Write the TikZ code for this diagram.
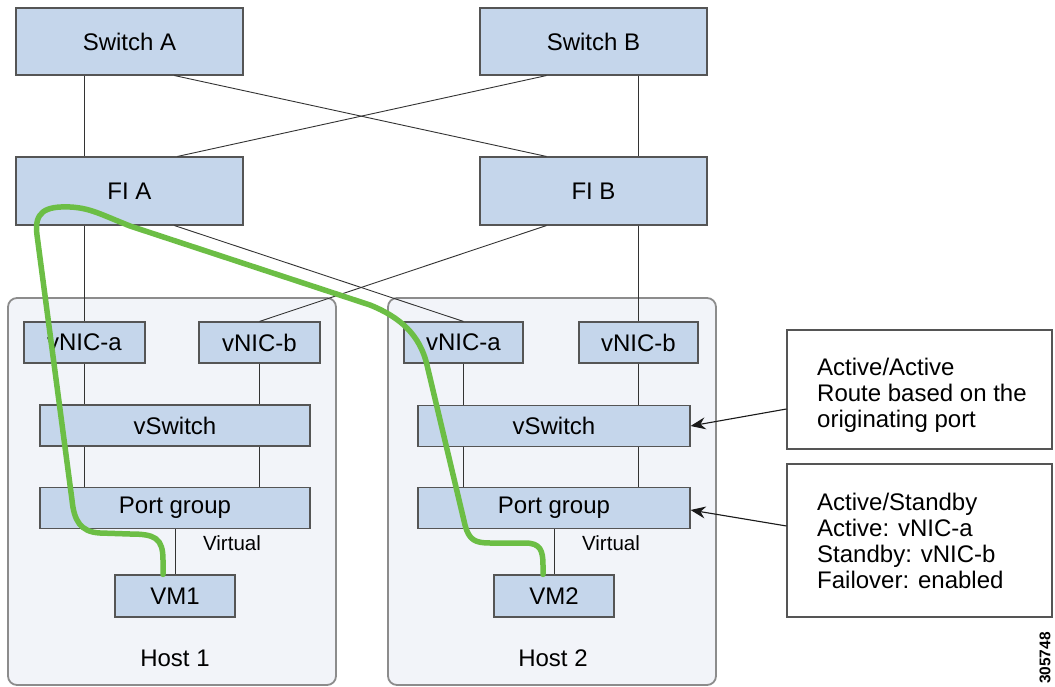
\documentclass[tikz,border=0pt]{standalone}
\usepackage{fontspec}
\setmainfont{Liberation Sans}
\usetikzlibrary{calc,arrows.meta}
\definecolor{boxfill}{RGB}{197,214,235}
\definecolor{boxline}{RGB}{85,85,85}
\definecolor{hostfill}{RGB}{242,244,249}
\definecolor{hostline}{RGB}{140,140,140}
\definecolor{pathgreen}{RGB}{108,190,69}
\begin{document}
\begin{tikzpicture}[x=1pt,y=-1pt,
  box/.style={draw=boxline, fill=boxfill, line width=1.1pt, inner sep=0pt,
    font=\fontsize{24}{26}\selectfont},
  host/.style={draw=hostline, fill=hostfill, line width=1.8pt, rounded corners=9pt, inner sep=0pt},
  link/.style={draw=black!80, line width=0.9pt},
  note/.style={draw=boxline, line width=1.1pt, fill=white, inner sep=0pt},
  notetext/.style={inner sep=0pt, align=left, anchor=north west, font=\fontsize{24}{26}\selectfont},
  lbl/.style={inner sep=0pt, font=\fontsize{24}{26}\selectfont},
  small/.style={inner sep=0pt, font=\fontsize{20.5}{24}\selectfont},
  arr/.style={draw=black!90, line width=1.1pt, -{Stealth[length=15pt,width=12pt,inset=5pt]}},
  route/.style={draw=pathgreen, line width=5.5pt, line cap=round, line join=round}]
\useasboundingbox (0,0) rectangle (1055,687);
\fill[white] (0,0) rectangle (1055,687);

% hosts
\node[host, minimum width=328pt, minimum height=387pt] (h1) at (172,491.5) {};
\node[host, minimum width=328pt, minimum height=387pt] (h2) at (552,491.5) {};

% top boxes
\node[box, minimum width=227pt, minimum height=67pt] (swA) at (129.5,41.5) {Switch A};
\node[box, minimum width=227pt, minimum height=67pt] (swB) at (593.5,41.5) {Switch B};
\node[box, minimum width=227pt, minimum height=68pt] (fiA) at (129.5,191) {FI A};
\node[box, minimum width=227pt, minimum height=68pt] (fiB) at (593.5,191) {FI B};

% host 1
\node[box, minimum width=121pt, minimum height=41pt] (va1) at (84.5,342.5) {vNIC-a};
\node[box, minimum width=121pt, minimum height=41pt] (vb1) at (259.5,342.5) {vNIC-b};
\node[box, minimum width=270pt, minimum height=41pt] (vs1) at (175,425.5) {vSwitch};
\node[box, minimum width=270pt, minimum height=41pt] (pg1) at (175,508) {Port group};
\node[box, minimum width=120pt, minimum height=42pt] (vm1) at (175,596) {VM1};
\node[small] (virt1) at (232,543) {Virtual};
\node[lbl] (hl1) at (175,658) {Host 1};

% host 2
\node[box, minimum width=119pt, minimum height=41pt] (va2) at (463.5,342.5) {vNIC-a};
\node[box, minimum width=119pt, minimum height=41pt] (vb2) at (638.5,342.5) {vNIC-b};
\node[box, minimum width=272pt, minimum height=41pt] (vs2) at (554,426) {vSwitch};
\node[box, minimum width=272pt, minimum height=41pt] (pg2) at (554,508) {Port group};
\node[box, minimum width=120pt, minimum height=42pt] (vm2) at (554,596) {VM2};
\node[small] (virt2) at (611,543) {Virtual};
\node[lbl] (hl2) at (553,658) {Host 2};

% notes
\node[note, minimum width=265pt, minimum height=119pt] (n1) at (919.5,389.5) {};
\node[notetext] (t1) at (817,358) {Active/Active\\Route based on the\\originating port};
\node[note, minimum width=265pt, minimum height=153pt] (n2) at (919.5,540.5) {};
\node[notetext] (t2) at (817,493) {Active/Standby\\Active: vNIC-a\\Standby: vNIC-b\\Failover: enabled};

\node[inner sep=0pt, rotate=90, font=\fontsize{15.5}{18}\selectfont\bfseries] (num) at (1045,658) {305748};

% links top
\draw[link] (swA.south -| va1) -- (fiA.north -| va1);
\draw[link] (swB.south -| vb2) -- (fiB.north -| vb2);
\draw[link] ($(swA.south west)+(159,0)$) -- ($(fiB.north west)+(67,0)$);
\draw[link] ($(swB.south west)+(67,0)$) -- ($(fiA.north west)+(162,0)$);
% FI to vNIC
\draw[link] (fiA.south -| va1) -- (va1.north);
\draw[link] (fiB.south -| vb2) -- (vb2.north);
\draw[link] ($(fiA.south west)+(159,0)$) -- (va2.north);
\draw[link] ($(fiB.south west)+(67,0)$) -- (vb1.north);
% inside hosts
\draw[link] (va1.south) -- (vs1.north -| va1);
\draw[link] (vb1.south) -- (vs1.north -| vb1);
\draw[link] (vs1.south -| va1) -- (pg1.north -| va1);
\draw[link] (vs1.south -| vb1) -- (pg1.north -| vb1);
\draw[link] (pg1.south) -- (vm1.north);
\draw[link] (va2.south) -- (vs2.north -| va2);
\draw[link] (vb2.south) -- (vs2.north -| vb2);
\draw[link] (vs2.south -| va2) -- (pg2.north -| va2);
\draw[link] (vs2.south -| vb2) -- (pg2.north -| vb2);
\draw[link] (pg2.south) -- (vm2.north);

% arrows
\draw[arr] ($(n1.west)+(0,19.5)$) -- (vs2.east);
\draw[arr] ($(n2.west)+(0,-14.5)$) -- ($(pg2.east)+(0,2)$);

% green route
\draw[route] ($(vm1.north)+(-12,0)$) -- (163,560)
  .. controls (163,538) and (155,534) .. (130,534) -- (100,533)
  .. controls (80,532) and (74,520) .. (72,500) -- (37,235)
  .. controls (34,212) and (45,206) .. (70,207)
  .. controls (90,208) and (100,214) .. (130,226) -- (370,305)
  .. controls (400,317) and (420,335) .. (427,365) -- (465,525)
  .. controls (469,540) and (475,543) .. (490,543) -- (525,543)
  .. controls (540,543) and (543,550) .. (543,565) -- ($(vm2.north)+(-11,0)$);
\end{tikzpicture}
\end{document}
